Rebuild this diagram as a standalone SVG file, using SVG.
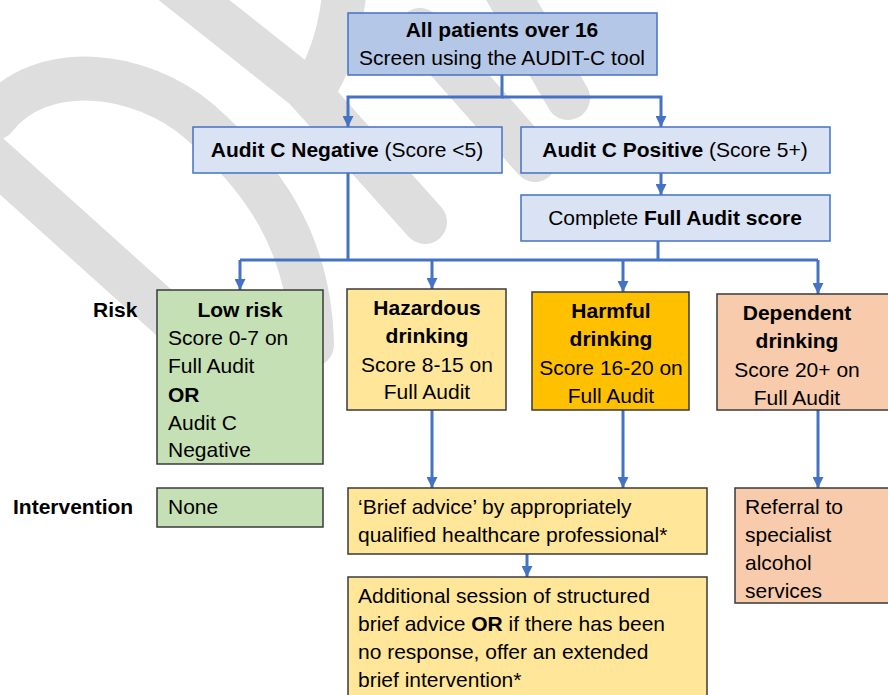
<svg xmlns="http://www.w3.org/2000/svg" width="888" height="695" viewBox="0 0 888 695">
  <style>
    text { font-family: "Liberation Sans", Arial, sans-serif; font-size: 21px; fill: #000; }
    .b { font-weight: bold; }
    .c { text-anchor: middle; }
    .wm { fill: none; stroke: #dedede; stroke-width: 44; stroke-linecap: round; stroke-linejoin: round; }
    .blue1 { fill: #b4c7e7; stroke: #4472c4; stroke-width: 1.5; }
    .blue2 { fill: #dae3f3; stroke: #4472c4; stroke-width: 1.5; }
    .green { fill: #c5e0b4; stroke: #3a3a3a; stroke-width: 1.5; }
    .yellow { fill: #ffe699; stroke: #3a3a3a; stroke-width: 1.5; }
    .orange { fill: #ffc000; stroke: #3a3a3a; stroke-width: 1.5; }
    .peach { fill: #f8cbad; stroke: #3a3a3a; stroke-width: 1.5; }
    .con { fill: none; stroke: #4472c4; stroke-width: 3; }
    .arr { marker-end: url(#ah); }
  </style>
  <defs>
    <marker id="ah" markerUnits="userSpaceOnUse" markerWidth="11" markerHeight="11" refX="11" refY="5.5" orient="auto">
      <path d="M0,0 L11,5.5 L0,11 z" fill="#4472c4"/>
    </marker>
  </defs>
  <rect x="0" y="0" width="888" height="695" fill="#ffffff"/>

  <g id="watermark">
    <path class="wm" d="M -20,147 L 190,336"/>
    <path class="wm" d="M -5,118 C 40,60 140,70 200,122 C 260,175 310,240 312,345"/>
    <path class="wm" d="M 175,-15 L 305,88 L 425,222"/>
    <path class="wm" d="M 345,-15 Q 340,50 312,92"/>
    <path class="wm" d="M 420,30 L 535,160"/>
    <path class="wm" d="M 500,-20 L 568,98"/>
  </g>

  <g id="connectors">
    <path class="con arr" d="M502,75 V97 H348 V127"/>
    <path class="con arr" d="M502,97 H661 V127"/>
    <path class="con arr" d="M661,173 V195"/>
    <path class="con" d="M348,173 V260 M240,260 H818 M658,241 V260"/>
    <path class="con arr" d="M240,260 V290"/>
    <path class="con arr" d="M432,260 V289"/>
    <path class="con arr" d="M623,260 V292"/>
    <path class="con arr" d="M818,260 V294"/>
    <path class="con arr" d="M432,410 V488"/>
    <path class="con arr" d="M623,410 V488"/>
    <path class="con arr" d="M818,410 V488"/>
    <path class="con arr" d="M527,554 V577"/>
  </g>

  <g id="all-patients">
    <rect class="blue1" x="348" y="13" width="309" height="62"/>
    <text class="b c" x="502" y="37">All patients over 16</text>
    <text class="c" x="502" y="65">Screen using the AUDIT-C tool</text>
  </g>

  <g id="audit-c-negative">
    <rect class="blue2" x="193" y="127" width="309" height="46"/>
    <text class="c" x="347" y="157"><tspan class="b">Audit C Negative</tspan> (Score &lt;5)</text>
  </g>

  <g id="audit-c-positive">
    <rect class="blue2" x="521" y="127" width="309" height="46"/>
    <text class="c" x="675" y="157"><tspan class="b">Audit C Positive</tspan> (Score 5+)</text>
  </g>

  <g id="complete-full-audit">
    <rect class="blue2" x="521" y="195" width="309" height="46"/>
    <text class="c" x="675" y="225">Complete <tspan class="b">Full Audit score</tspan></text>
  </g>

  <g id="label-risk">
    <text class="b" x="93" y="317">Risk</text>
  </g>

  <g id="low-risk">
    <rect class="green" x="157" y="290" width="166" height="174"/>
    <text class="b c" x="240" y="317">Low risk</text>
    <text x="168" y="345">Score 0-7 on</text>
    <text x="168" y="373">Full Audit</text>
    <text class="b" x="168" y="402">OR</text>
    <text x="168" y="430">Audit C</text>
    <text x="168" y="457">Negative</text>
  </g>

  <g id="hazardous">
    <rect class="yellow" x="347" y="289" width="159" height="121"/>
    <text class="b c" x="427" y="315">Hazardous</text>
    <text class="b c" x="427" y="343">drinking</text>
    <text class="c" x="427" y="372">Score 8-15 on</text>
    <text class="c" x="427" y="399">Full Audit</text>
  </g>

  <g id="harmful">
    <rect class="orange" x="532" y="292" width="157" height="118"/>
    <text class="b c" x="611" y="318">Harmful</text>
    <text class="b c" x="611" y="346">drinking</text>
    <text class="c" x="611" y="375">Score 16-20 on</text>
    <text class="c" x="611" y="403">Full Audit</text>
  </g>

  <g id="dependent">
    <rect class="peach" x="717" y="294" width="176" height="116"/>
    <text class="b c" x="797" y="320">Dependent</text>
    <text class="b c" x="797" y="348">drinking</text>
    <text class="c" x="797" y="377">Score 20+ on</text>
    <text class="c" x="797" y="405">Full Audit</text>
  </g>

  <g id="label-intervention">
    <text class="b" x="13" y="514">Intervention</text>
  </g>

  <g id="none">
    <rect class="green" x="157" y="488" width="166" height="39"/>
    <text x="168" y="514">None</text>
  </g>

  <g id="brief-advice">
    <rect class="yellow" x="348" y="488" width="359" height="66"/>
    <text x="358" y="514">‘Brief advice’ by appropriately</text>
    <text x="358" y="542">qualified healthcare professional*</text>
  </g>

  <g id="additional-session">
    <rect class="yellow" x="348" y="577" width="359" height="125"/>
    <text x="358" y="603">Additional session of structured</text>
    <text x="358" y="631">brief advice <tspan class="b">OR</tspan> if there has been</text>
    <text x="358" y="659">no response, offer an extended</text>
    <text x="358" y="687">brief intervention*</text>
  </g>

  <g id="referral">
    <rect class="peach" x="735" y="488" width="158" height="115"/>
    <text x="745" y="514">Referral to</text>
    <text x="745" y="542">specialist</text>
    <text x="745" y="570">alcohol</text>
    <text x="745" y="598">services</text>
  </g>
</svg>
